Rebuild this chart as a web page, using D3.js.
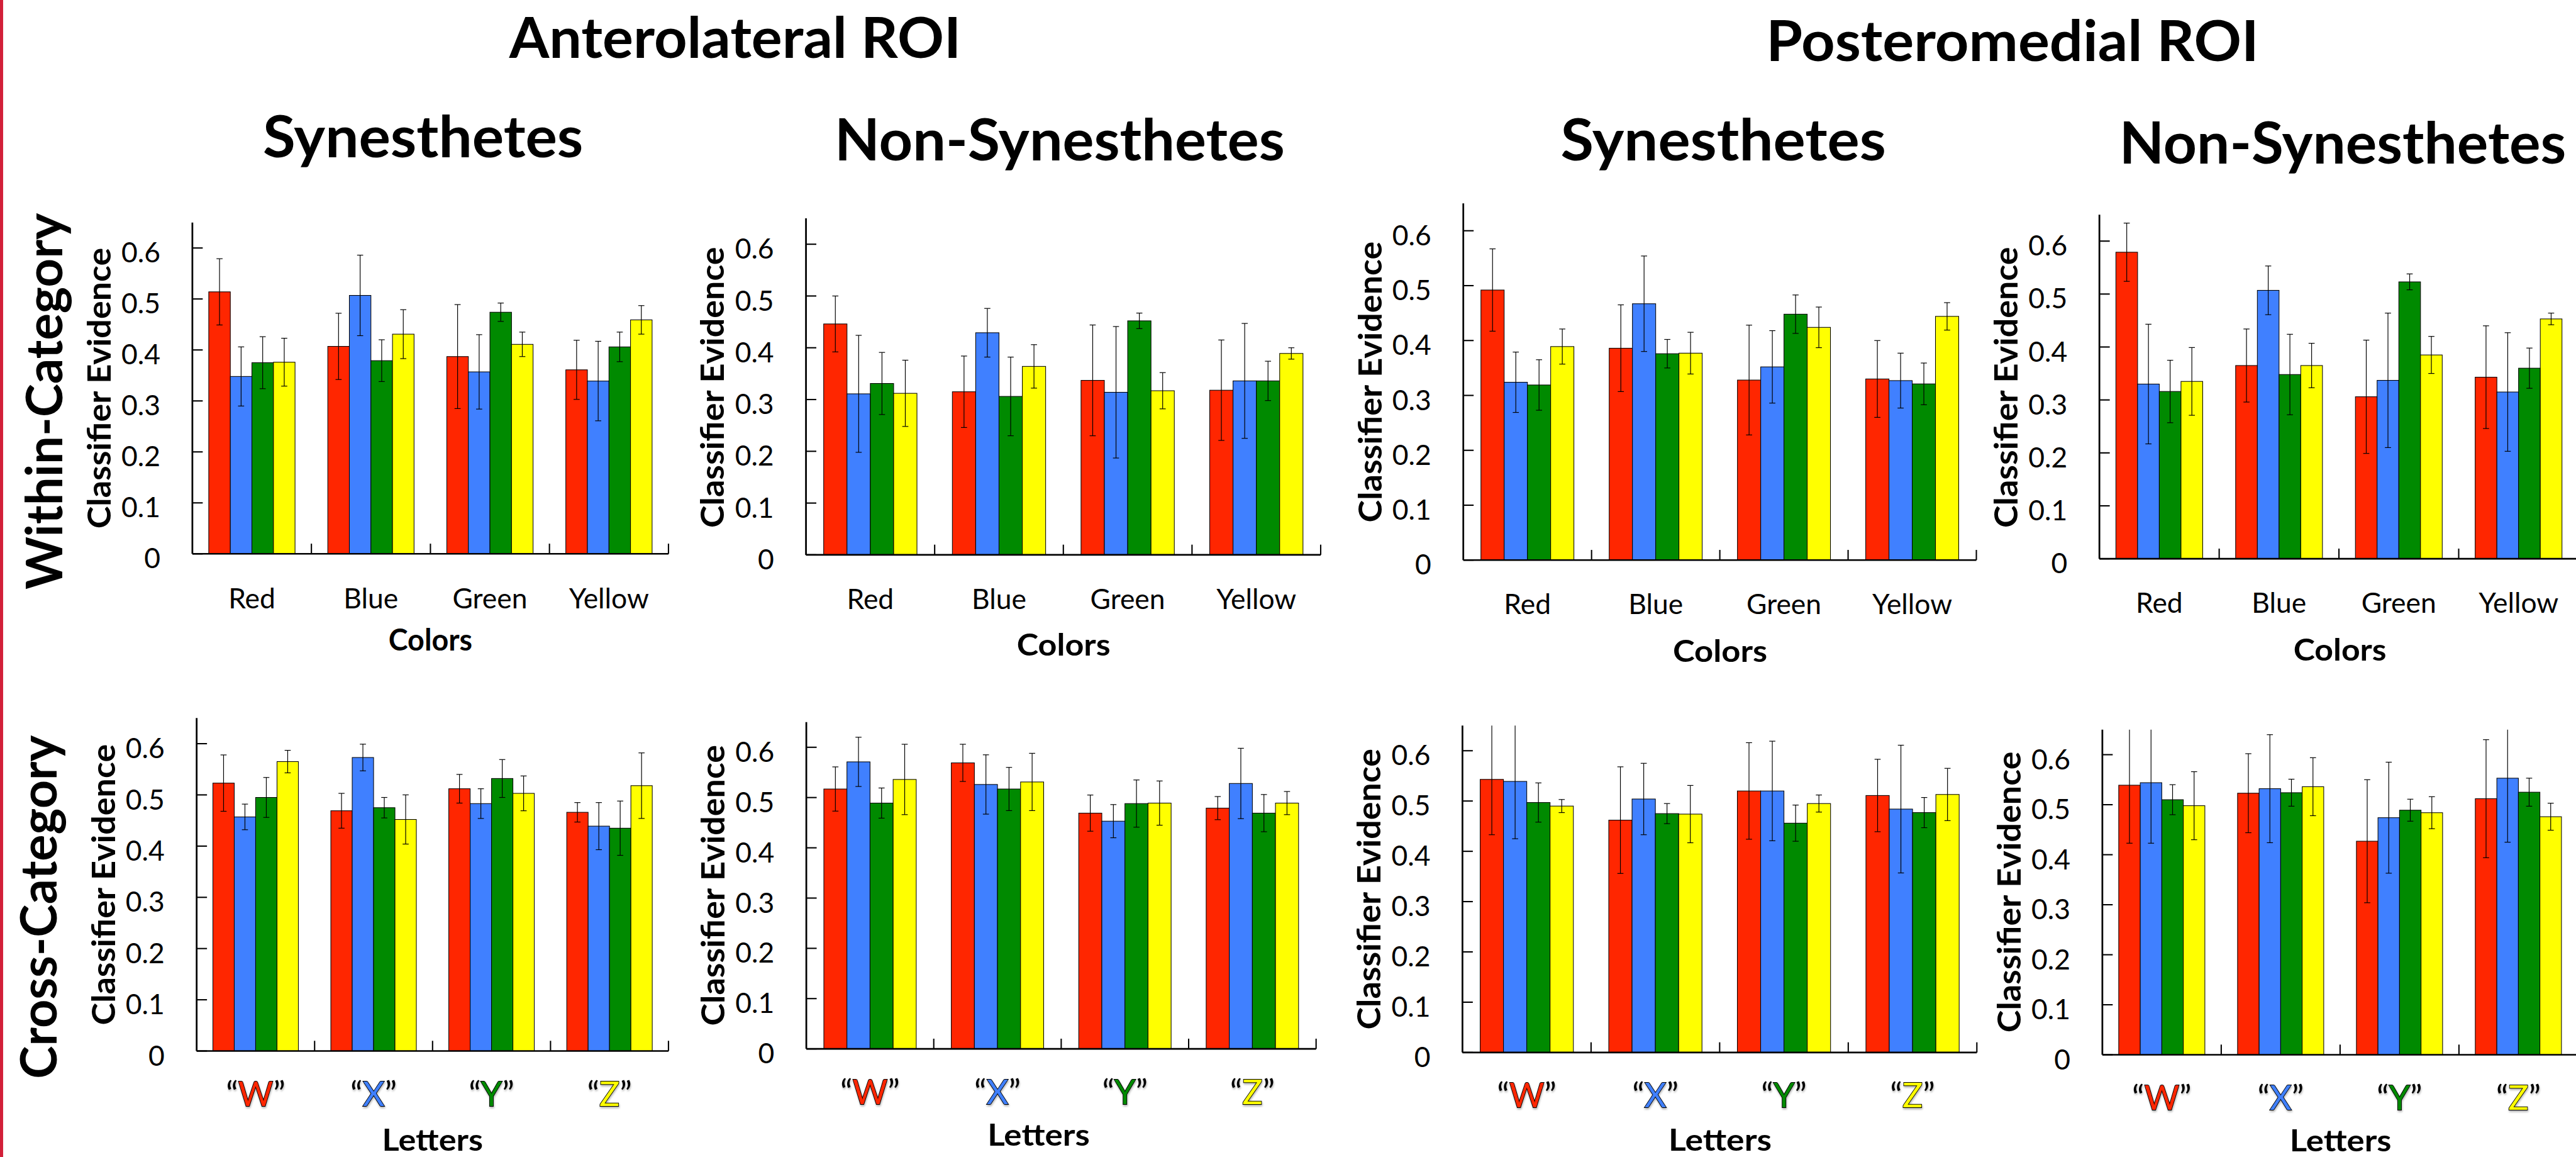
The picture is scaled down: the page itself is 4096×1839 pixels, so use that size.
<!DOCTYPE html>
<html>
<head>
<meta charset="utf-8">
<script src="https://cdn.jsdelivr.net/npm/d3@7"></script>
<style>
html,body{margin:0;padding:0;background:#fff;overflow:hidden}
svg{display:block}
</style>
</head>
<body>
<svg id="chart"></svg>
<script>
// ---------------- DATA ----------------
const colorCategories = ["Red", "Blue", "Green", "Yellow"];
const letterCategories = ["W", "X", "Y", "Z"];
const seriesNames = ["Red", "Blue", "Green", "Yellow"];
const yTickValues = [0, 0.1, 0.2, 0.3, 0.4, 0.5, 0.6];
const yTickLabels = ["0", "0.1", "0.2", "0.3", "0.4", "0.5", "0.6"];
const yMax = 0.65;

// rows = categories, columns = series (Red, Blue, Green, Yellow)
const alSynWithinMean = [[0.514, 0.348, 0.375, 0.376], [0.407, 0.507, 0.379, 0.431], [0.387, 0.357, 0.474, 0.411], [0.361, 0.339, 0.406, 0.459]];
const alSynWithinErr  = [[0.065, 0.058, 0.051, 0.047], [0.065, 0.079, 0.041, 0.048], [0.102, 0.073, 0.018, 0.024], [0.058, 0.078, 0.029, 0.028]];

const alNonWithinMean = [[0.446, 0.311, 0.331, 0.312], [0.315, 0.429, 0.306, 0.364], [0.337, 0.314, 0.452, 0.317], [0.318, 0.336, 0.336, 0.389]];
const alNonWithinErr  = [[0.054, 0.113, 0.060, 0.064], [0.069, 0.047, 0.076, 0.042], [0.107, 0.127, 0.015, 0.035], [0.097, 0.111, 0.038, 0.011]];

const pmSynWithinMean = [[0.492, 0.324, 0.319, 0.389], [0.386, 0.467, 0.376, 0.377], [0.328, 0.352, 0.448, 0.424], [0.330, 0.327, 0.321, 0.444]];
const pmSynWithinErr  = [[0.075, 0.055, 0.046, 0.032], [0.079, 0.087, 0.026, 0.038], [0.100, 0.066, 0.035, 0.037], [0.070, 0.050, 0.038, 0.025]];

const pmNonWithinMean = [[0.579, 0.330, 0.316, 0.335], [0.365, 0.507, 0.348, 0.365], [0.306, 0.337, 0.523, 0.385], [0.343, 0.315, 0.360, 0.453]];
const pmNonWithinErr  = [[0.055, 0.113, 0.059, 0.064], [0.069, 0.046, 0.076, 0.042], [0.107, 0.127, 0.015, 0.035], [0.097, 0.112, 0.038, 0.011]];

const alSynCrossMean = [[0.523, 0.457, 0.495, 0.565], [0.469, 0.573, 0.475, 0.452], [0.512, 0.483, 0.532, 0.503], [0.466, 0.439, 0.435, 0.518]];
const alSynCrossErr  = [[0.055, 0.025, 0.039, 0.022], [0.034, 0.026, 0.020, 0.048], [0.028, 0.029, 0.037, 0.034], [0.019, 0.046, 0.053, 0.064]];

const alNonCrossMean = [[0.517, 0.571, 0.489, 0.536], [0.569, 0.526, 0.517, 0.531], [0.469, 0.453, 0.488, 0.489], [0.479, 0.528, 0.469, 0.489]];
const alNonCrossErr  = [[0.044, 0.049, 0.030, 0.070], [0.037, 0.059, 0.043, 0.057], [0.036, 0.033, 0.047, 0.044], [0.023, 0.070, 0.037, 0.023]];

const pmSynCrossMean = [[0.543, 0.539, 0.497, 0.490], [0.462, 0.504, 0.475, 0.474], [0.520, 0.520, 0.456, 0.495], [0.511, 0.484, 0.477, 0.513]];
const pmSynCrossErr  = [[0.110, 0.114, 0.039, 0.013], [0.106, 0.071, 0.020, 0.057], [0.096, 0.099, 0.036, 0.017], [0.072, 0.127, 0.030, 0.052]];

const pmNonCrossMean = [[0.539, 0.544, 0.510, 0.498], [0.523, 0.532, 0.524, 0.536], [0.427, 0.474, 0.489, 0.484], [0.512, 0.553, 0.525, 0.476]];
const pmNonCrossErr  = [[0.116, 0.121, 0.030, 0.068], [0.079, 0.108, 0.027, 0.058], [0.123, 0.111, 0.022, 0.032], [0.118, 0.128, 0.028, 0.027]];

const roiTitles = ["Anterolateral ROI", "Posteromedial ROI"];
const groupTitles = ["Synesthetes", "Non-Synesthetes", "Synesthetes", "Non-Synesthetes"];
const rowTitles = ["Within-Category", "Cross-Category"];
const yAxisTitle = "Classifier Evidence";

// ---------------- STYLE / LAYOUT ----------------
const seriesFill = { Red: "#ff2600", Blue: "#4080ff", Green: "#008a00", Yellow: "#ffff00" };
const FONT = "Lato, 'Open Sans', 'DejaVu Sans', sans-serif";

const panels = [
  { mean: alSynWithinMean, err: alSynWithinErr, cats: colorCategories, letters: false, left: 117.1, right: 406.9, bottom: 337.0, y06: 150.9, xTitle: "Colors", xTitleW: 51, xTitleCx: 262, xTitleDy: 59, yTitleCy: 236.2 },
  { mean: alNonWithinMean, err: alNonWithinErr, cats: colorCategories, letters: false, left: 490.6, right: 803.9, bottom: 337.6, y06: 148.6, xTitle: "Colors", xTitleW: 57, xTitleCx: 647.4, xTitleDy: 61.3, yTitleCy: 235.7 },
  { mean: pmSynWithinMean, err: pmSynWithinErr, cats: colorCategories, letters: false, left: 890.7, right: 1203.0, bottom: 340.8, y06: 140.4, xTitle: "Colors", xTitleW: 57.5, xTitleCx: 1047, xTitleDy: 61.9, yTitleCy: 232.4 },
  { mean: pmNonWithinMean, err: pmNonWithinErr, cats: colorCategories, letters: false, left: 1277.9, right: 1569.5, bottom: 340.0, y06: 146.7, xTitle: "Colors", xTitleW: 56.6, xTitleCx: 1424.3, xTitleDy: 61.8, yTitleCy: 235.7 },
  { mean: alSynCrossMean, err: alSynCrossErr, cats: letterCategories, letters: true, left: 119.7, right: 406.9, bottom: 639.5, y06: 452.5, xTitle: "Letters", xTitleW: 61.4, xTitleCx: 263.3, xTitleDy: 60.5, yTitleCy: 538.3 },
  { mean: alNonCrossMean, err: alNonCrossErr, cats: letterCategories, letters: true, left: 490.8, right: 801.1, bottom: 638.2, y06: 454.7, xTitle: "Letters", xTitleW: 62.2, xTitleCx: 632.2, xTitleDy: 58.8, yTitleCy: 538.7 },
  { mean: pmSynCrossMean, err: pmSynCrossErr, cats: letterCategories, letters: true, left: 890.2, right: 1203.3, bottom: 640.4, y06: 456.8, xTitle: "Letters", xTitleW: 62.8, xTitleCx: 1047, xTitleDy: 59.8, yTitleCy: 541 },
  { mean: pmNonCrossMean, err: pmNonCrossErr, cats: letterCategories, letters: true, left: 1279.7, right: 1569.1, bottom: 641.8, y06: 459.2, xTitle: "Letters", xTitleW: 61.9, xTitleCx: 1424.7, xTitleDy: 58.6, yTitleCy: 542.8 }
];

const svg = d3.select("#chart")
  .attr("width", 4096).attr("height", 1839)
  .attr("viewBox", "0 0 1568 704")
  .attr("preserveAspectRatio", "none");

svg.append("rect").attr("width", 1568).attr("height", 704).attr("fill", "#fff");
svg.append("rect").attr("x", 0).attr("y", 0).attr("width", 1.9).attr("height", 704).attr("fill", "#d21f38");

const defs = svg.append("defs");
const filt = defs.append("filter").attr("id", "shadow")
  .attr("x", "-20%").attr("y", "-20%").attr("width", "140%").attr("height", "160%");
filt.append("feDropShadow").attr("dx", 0.3).attr("dy", 0.9).attr("stdDeviation", 0.6)
  .attr("flood-color", "#000").attr("flood-opacity", 0.3);

// ---------------- Titles ----------------
const roiPos = [{ cx: 447.5, y: 35.4, w: 275 }, { cx: 1225, y: 37.0, w: 300 }];
svg.selectAll("text.roi").data(roiTitles).join("text")
  .attr("class", "roi")
  .attr("x", (d, i) => roiPos[i].cx).attr("y", (d, i) => roiPos[i].y)
  .attr("text-anchor", "middle")
  .attr("font-family", FONT).attr("font-weight", 700).attr("font-size", 34.2)
  .attr("textLength", (d, i) => roiPos[i].w).attr("lengthAdjust", "spacingAndGlyphs")
  .text(d => d);

const groupPos = [{ cx: 257.5, y: 95.7, w: 195 }, { cx: 645, y: 97.7, w: 274 }, { cx: 1049, y: 97.7, w: 198 }, { cx: 1426, y: 99.7, w: 272 }];
svg.selectAll("text.grp").data(groupTitles).join("text")
  .attr("class", "grp")
  .attr("x", (d, i) => groupPos[i].cx).attr("y", (d, i) => groupPos[i].y)
  .attr("text-anchor", "middle")
  .attr("font-family", FONT).attr("font-weight", 700).attr("font-size", 34.9)
  .attr("textLength", (d, i) => groupPos[i].w).attr("lengthAdjust", "spacingAndGlyphs")
  .text(d => d);

const rowPos = [{ x: 37.9, cy: 244.2, w: 229 }, { x: 34.5, cy: 551.9, w: 209 }];
svg.selectAll("text.row").data(rowTitles).join("text")
  .attr("class", "row")
  .attr("transform", (d, i) => `translate(${rowPos[i].x},${rowPos[i].cy}) rotate(-90)`)
  .attr("text-anchor", "middle")
  .attr("font-family", FONT).attr("font-weight", 700).attr("font-size", 30.7)
  .attr("textLength", (d, i) => rowPos[i].w).attr("lengthAdjust", "spacingAndGlyphs")
  .text(d => d);

// ---------------- Panels ----------------
panels.forEach(p => {
  const top = p.bottom - (p.bottom - p.y06) * yMax / 0.6;
  const y = d3.scaleLinear().domain([0, yMax]).range([p.bottom, top]);
  const x = d3.scaleBand().domain(p.cats).range([p.left, p.right]);
  const xs = d3.scaleBand().domain(seriesNames).range([0, x.bandwidth()]).paddingOuter(0.759);

  const g = svg.append("g");

  const rows = [];
  p.cats.forEach((c, ci) => seriesNames.forEach((s, si) => {
    rows.push({ cat: c, series: s, v: p.mean[ci][si], e: p.err[ci][si] });
  }));

  // bars
  g.append("g").selectAll("rect").data(rows).join("rect")
    .attr("x", d => x(d.cat) + xs(d.series))
    .attr("y", d => y(d.v))
    .attr("width", xs.bandwidth())
    .attr("height", d => y(0) - y(d.v))
    .attr("fill", d => seriesFill[d.series])
    .attr("stroke", "#000").attr("stroke-width", 0.4);

  // error bars
  const eb = g.append("g").attr("stroke", "#000").attr("stroke-width", 0.45);
  const capW = 1.85;
  rows.forEach(d => {
    const cx = x(d.cat) + xs(d.series) + xs.bandwidth() / 2;
    const hi = Math.min(d.v + d.e, yMax);
    const lo = d.v - d.e;
    eb.append("line").attr("x1", cx).attr("x2", cx).attr("y1", y(lo)).attr("y2", y(hi));
    eb.append("line").attr("x1", cx - capW).attr("x2", cx + capW).attr("y1", y(lo)).attr("y2", y(lo));
    if (d.v + d.e < yMax) {
      eb.append("line").attr("x1", cx - capW).attr("x2", cx + capW).attr("y1", y(hi)).attr("y2", y(hi));
    }
  });

  // y axis
  const yAxis = d3.axisLeft(y).tickValues(yTickValues)
    .tickFormat((d, i) => yTickLabels[i])
    .tickSizeInner(-6.3).tickSizeOuter(0).tickPadding(19.5).offset(0);
  const ya = g.append("g").attr("transform", `translate(${p.left},0)`).call(yAxis);
  ya.attr("font-family", FONT).attr("font-size", 17);
  ya.select(".domain").attr("stroke-width", 1.05);
  ya.selectAll(".tick line").attr("stroke-width", 0.8);
  ya.selectAll(".tick text").attr("dy", "0.52em").attr("fill", "#000");

  // x axis
  const xAxis = d3.axisBottom(x).tickValues([]).tickSizeOuter(0).offset(0);
  const xa = g.append("g").attr("transform", `translate(0,${p.bottom})`).call(xAxis);
  xa.select(".domain").attr("stroke-width", 1.0);
  xa.selectAll("line.bound").data(p.cats).join("line")
    .attr("class", "bound")
    .attr("x1", d => x(d) + x.bandwidth()).attr("x2", d => x(d) + x.bandwidth())
    .attr("y1", 0).attr("y2", -6.2)
    .attr("stroke", "#000").attr("stroke-width", 0.8);

  // category labels
  if (!p.letters) {
    g.append("g").selectAll("text").data(p.cats).join("text")
      .attr("x", d => x(d) + x.bandwidth() / 2)
      .attr("y", p.bottom + 33)
      .attr("text-anchor", "middle")
      .attr("font-family", FONT).attr("font-size", 17)
      .text(d => d);
  } else {
    const lt = g.append("g").selectAll("text").data(p.cats).join("text")
      .attr("x", d => x(d) + x.bandwidth() / 2)
      .attr("y", p.bottom + 33.5)
      .attr("text-anchor", "middle")
      .attr("font-family", FONT).attr("font-size", 20.5)
      .attr("filter", "url(#shadow)");
    lt.append("tspan").text("\u201C");
    lt.append("tspan")
      .attr("fill", (d, i) => seriesFill[seriesNames[i]])
      .attr("stroke", "#000").attr("stroke-width", 0.7)
      .attr("paint-order", "stroke")
      .text(d => d);
    lt.append("tspan").text("\u201D");
  }

  // x axis title
  g.append("text")
    .attr("x", p.xTitleCx).attr("y", p.bottom + p.xTitleDy)
    .attr("text-anchor", "middle")
    .attr("font-family", FONT).attr("font-weight", 700).attr("font-size", 18)
    .attr("textLength", p.xTitleW).attr("lengthAdjust", "spacingAndGlyphs")
    .text(p.xTitle);

  // y axis title
  g.append("text")
    .attr("transform", `translate(${p.left - 49.8},${p.yTitleCy}) rotate(-90)`)
    .attr("text-anchor", "middle")
    .attr("font-family", FONT).attr("font-weight", 700).attr("font-size", 20)
    .attr("textLength", 171).attr("lengthAdjust", "spacingAndGlyphs")
    .text(yAxisTitle);
});
</script>
</body>
</html>
